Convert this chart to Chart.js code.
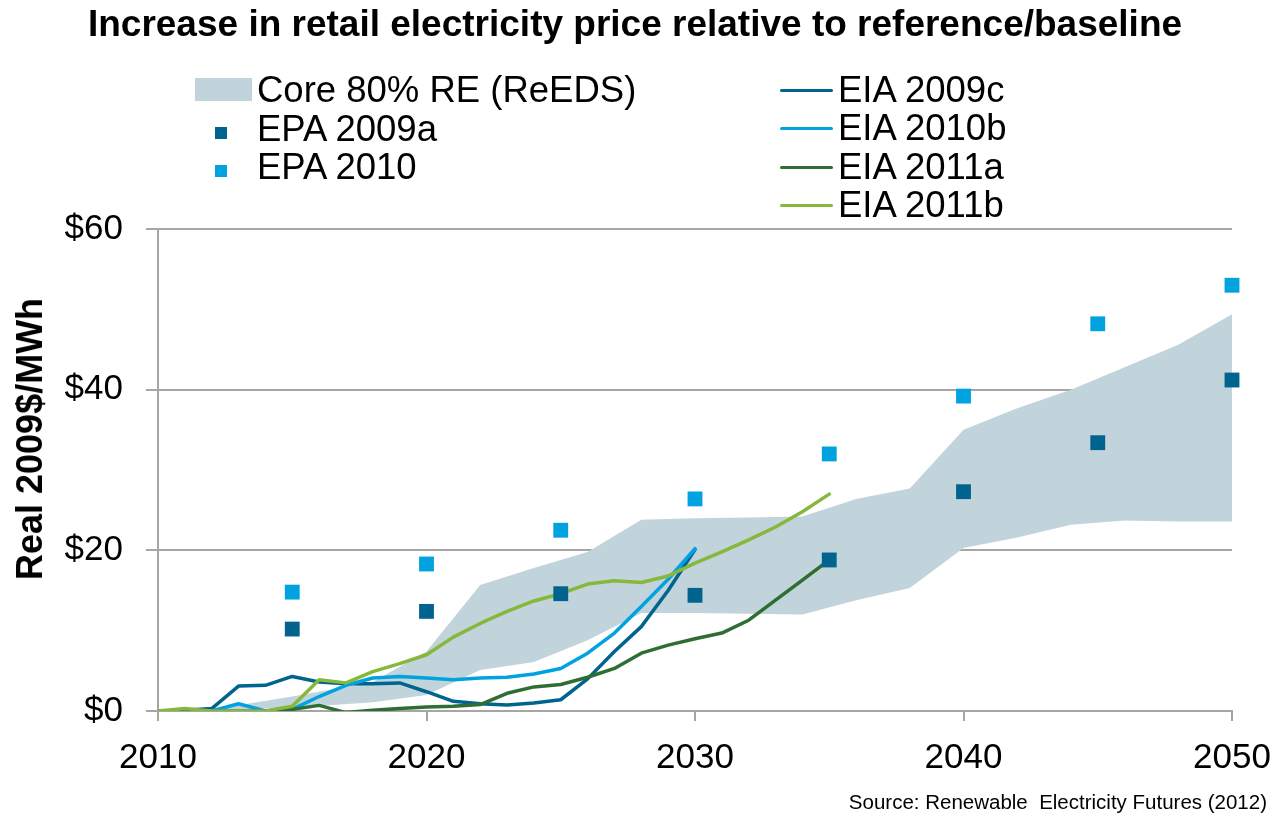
<!DOCTYPE html>
<html>
<head>
<meta charset="utf-8">
<title>Retail electricity price increase</title>
<script src="https://cdn.jsdelivr.net/npm/chart.js@4.4.1/dist/chart.umd.min.js"></script>
<style>
  body { margin: 0; background: #fff; font-family: 'Liberation Sans', Arial, sans-serif; color: #000; }
  #wrap { position: relative; width: 1280px; height: 814px; overflow: hidden; }
  #chart { position: absolute; left: 0; top: 0; }
  .title { position: absolute; left: 0; top: 5px; width: 1270px; text-align: center;
           font-weight: bold; font-size: 37px; line-height: 37px; white-space: nowrap; }
  .ytitle { position: absolute; left: 30px; top: 439px; font-weight: bold; font-size: 36px;
            line-height: 36px; white-space: nowrap; transform: translate(-50%, -50%) rotate(-90deg); }
  .row { position: absolute; height: 36px; display: flex; align-items: center;
         font-size: 36.5px; line-height: 36px; white-space: nowrap; }
  .mark { position: relative; height: 36px; flex: none; }
  .mark span { position: absolute; display: block; }
  .source { position: absolute; right: 13px; top: 792px; font-size: 20.5px; line-height: 20.5px; white-space: nowrap; }
</style>
</head>
<body>
<div id="wrap">
  <canvas id="chart" width="1280" height="814"></canvas>
  <div class="title">Increase in retail electricity price relative to reference/baseline</div>
  <div class="ytitle">Real 2009$/MWh</div>
  <div id="legend"></div>
  <div class="source">Source: Renewable&nbsp; Electricity Futures (2012)</div>
</div>
<script>
// Core 80% RE (ReEDS) range, upper and lower edge
const bandYears = [2010, 2012, 2015, 2018, 2020, 2022, 2024, 2026, 2028, 2030,
                   2032, 2034, 2036, 2038, 2040, 2042, 2044, 2046, 2048, 2050];
const bandLow = [0, 0.1, 0.4, 1.1, 2.0, 5.1, 6.1, 8.8, 12.2, 12.2,
                 12.1, 12.0, 13.8, 15.3, 20.3, 21.6, 23.2, 23.7, 23.6, 23.6];
const bandHigh = [0, 0.2, 1.8, 3.6, 7.4, 15.7, 17.8, 19.8, 23.8, 24.0,
                  24.1, 24.2, 26.4, 27.7, 35.0, 37.7, 40.0, 42.8, 45.6, 49.4];

// EPA point estimates
const epaYears = [2015, 2020, 2025, 2030, 2035, 2040, 2045, 2050];
const epa2009a = [10.2, 12.4, 14.6, 14.4, 18.8, 27.3, 33.4, 41.2];
const epa2010 = [14.8, 18.3, 22.5, 26.4, 32.0, 39.2, 48.2, 53.0];

// EIA annual series
const eiaYears = [2010, 2011, 2012, 2013, 2014, 2015, 2016, 2017, 2018, 2019, 2020, 2021, 2022,
                  2023, 2024, 2025, 2026, 2027, 2028, 2029, 2030, 2031, 2032, 2033, 2034, 2035];
const eia2009c = [0, 0.1, 0.3, 3.1, 3.2, 4.3, 3.6, 3.4, 3.4, 3.5, 2.4, 1.2, 0.9,
                  0.75, 1.0, 1.4, 4.0, 7.4, 10.5, 15.0, 20.1];
const eia2010b = [0, 0, 0, 0.9, 0, 0.2, 1.8, 3.2, 4.1, 4.3, 4.1, 3.9, 4.1,
                  4.2, 4.6, 5.3, 7.2, 9.7, 13.0, 16.4, 20.2];
const eia2011a = [0, 0, 0, 0, 0, 0.2, 0.7, -0.2, 0.1, 0.3, 0.5, 0.6, 0.8,
                  2.2, 3.0, 3.3, 4.2, 5.3, 7.2, 8.2, 9.0, 9.7, 11.3, 13.8, 16.3, 18.8];
const eia2011b = [0, 0.3, 0, 0, 0, 0.6, 3.9, 3.5, 4.9, 5.9, 7.0, 9.2, 10.9,
                  12.4, 13.7, 14.6, 15.8, 16.2, 16.0, 16.8, 18.4, 19.8, 21.3, 22.9, 24.8, 27.0];

const yTicks = [0, 20, 40, 60];
const xTicks = [2010, 2020, 2030, 2040, 2050];

const FONT = "'Liberation Sans', Arial, sans-serif";
const GRID = '#a6a6a6';

const pts = (xs, ys) => ys.map((y, i) => ({ x: xs[i], y }));

function lineSet(label, years, values, color, order) {
  return {
    label,
    data: pts(years, values),
    borderColor: color,
    backgroundColor: color,
    borderWidth: 3.5,
    borderJoinStyle: 'round',
    borderCapStyle: 'round',
    pointRadius: 0,
    tension: 0,
    fill: false,
    order,
  };
}

function squareSet(label, values, color, order) {
  return {
    label,
    data: pts(epaYears, values),
    showLine: false,
    pointStyle: 'rect',
    pointRadius: 10.5,
    pointBorderWidth: 0,
    pointBackgroundColor: color,
    borderColor: color,
    backgroundColor: color,
    clip: false,
    order,
  };
}

const datasets = [
  {
    label: 'band-low',
    data: pts(bandYears, bandLow),
    borderColor: 'rgba(0,0,0,0)',
    borderWidth: 0,
    pointRadius: 0,
    fill: false,
    order: 7,
  },
  {
    label: 'Core 80% RE (ReEDS)',
    data: pts(bandYears, bandHigh),
    borderColor: 'rgba(0,0,0,0)',
    backgroundColor: '#c1d3db',
    borderWidth: 0,
    pointRadius: 0,
    fill: '-1',
    order: 6,
  },
  squareSet('EPA 2009a', epa2009a, '#00648f', 1),
  squareSet('EPA 2010', epa2010, '#00a3e0', 0),
  lineSet('EIA 2009c', eiaYears, eia2009c, '#00648f', 5),
  lineSet('EIA 2010b', eiaYears, eia2010b, '#00a3e0', 4),
  lineSet('EIA 2011a', eiaYears, eia2011a, '#2e6e32', 3),
  lineSet('EIA 2011b', eiaYears, eia2011b, '#86b83c', 2),
];

new Chart(document.getElementById('chart'), {
  type: 'line',
  data: { datasets },
  options: {
    responsive: false,
    animation: false,
    layout: { padding: { left: 40, top: 229, right: 48, bottom: 0 } },
    plugins: {
      legend: { display: false },
      tooltip: { enabled: false },
      title: { display: false },
    },
    scales: {
      x: {
        type: 'linear',
        min: 2010,
        max: 2050,
        afterBuildTicks: (scale) => { scale.ticks = xTicks.map((v) => ({ value: v })); },
        afterFit: (scale) => {
          scale.height = 103;
          // plot edges are fixed by the layout padding, not the end labels
          scale.paddingLeft = 0;
          scale.paddingRight = 0;
        },
        ticks: {
          padding: 16,
          color: '#000',
          font: { family: FONT, size: 35 },
          callback: (v) => String(v),
        },
        grid: { drawOnChartArea: false, drawTicks: true, tickLength: 10, color: GRID, lineWidth: 2 },
        border: { display: true, color: GRID, width: 2 },
      },
      y: {
        min: 0,
        max: 60,
        afterBuildTicks: (scale) => { scale.ticks = yTicks.map((v) => ({ value: v })); },
        afterFit: (scale) => { scale.width = 118; },
        ticks: {
          padding: 23,
          color: '#000',
          font: { family: FONT, size: 35 },
          callback: (v) => '$' + v,
        },
        grid: { color: GRID, lineWidth: 2, drawTicks: true, tickLength: 12 },
        border: { display: true, color: GRID, width: 2 },
      },
    },
  },
});

// Two-column legend, built from the datasets
const legendLeft = [datasets[1], datasets[2], datasets[3]];
const legendRight = [datasets[4], datasets[5], datasets[6], datasets[7]];

function addRow(ds, left, center, markWidth) {
  const row = document.createElement('div');
  row.className = 'row';
  row.style.left = left + 'px';
  row.style.top = (center - 18) + 'px';
  const mark = document.createElement('div');
  mark.className = 'mark';
  mark.style.width = markWidth + 'px';
  const s = document.createElement('span');
  if (ds.fill) {
    Object.assign(s.style, { left: '0px', top: '6px', width: '57px', height: '23px', background: ds.backgroundColor });
  } else if (ds.showLine === false) {
    Object.assign(s.style, { left: '20px', top: '16px', width: '12px', height: '12px', background: ds.backgroundColor });
  } else {
    Object.assign(s.style, { left: '0px', top: '17px', width: '53px', height: '3px', borderRadius: '2px', background: ds.borderColor });
  }
  mark.appendChild(s);
  row.appendChild(mark);
  row.appendChild(document.createTextNode(ds.label));
  document.getElementById('legend').appendChild(row);
}

legendLeft.forEach((ds, i) => addRow(ds, 195, [90, 129, 167][i], 62));
legendRight.forEach((ds, i) => addRow(ds, 780, 89.5 + i * 38.5, 58));
</script>
</body>
</html>
